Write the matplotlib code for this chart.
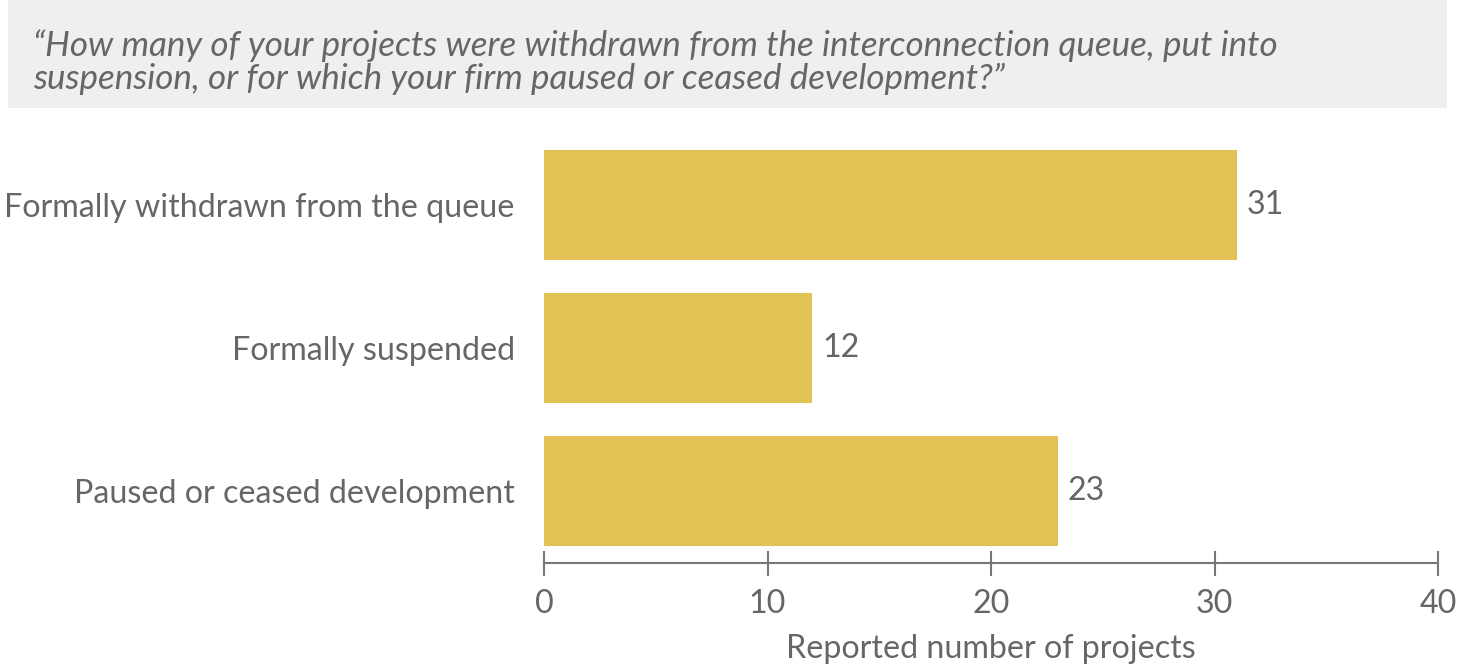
import matplotlib
matplotlib.use("Agg")
import matplotlib.pyplot as plt
from matplotlib.patches import Rectangle

categories = ["Formally withdrawn from the queue", "Formally suspended", "Paused or ceased development"]
values = [31, 12, 23]
xticks = [0, 10, 20, 30, 40]
title_lines = ["\u201cHow many of your projects were withdrawn from the interconnection queue, put into",
               "suspension, or for which your firm paused or ceased development?\u201d"]
xlabel = "Reported number of projects"

plt.rcParams["font.family"] = ["Lato", "DejaVu Sans"]
text_color = "#666666"
bar_color = "#e2c155"
fs = 23.2

W, H = 1466, 665
fig = plt.figure(figsize=(W / 100, H / 100), dpi=100)

# grey banner holding the survey question
fig.patches.append(Rectangle((8 / W, 1 - 108 / H), (1447 - 8) / W, 108 / H,
                             transform=fig.transFigure, facecolor="#eeeff1",
                             edgecolor="none", zorder=0))
fig.text(33 / W, 1 - 46 / H, title_lines[0], fontsize=25.2, style="italic",
         color=text_color, va="center", ha="left")
fig.text(33 / W, 1 - 79 / H, title_lines[1], fontsize=25.2, style="italic",
         color=text_color, va="center", ha="left")

ax = fig.add_axes([544 / W, 1 - 562.5 / H, (1438 - 544) / W, (562.5 - 133.5) / H])
ypos = list(range(len(categories)))
ax.barh(ypos, values, height=0.77, color=bar_color)
for y, v in zip(ypos, values):
    ax.annotate(str(v), (v, y), xytext=(7, 0), textcoords="offset points",
                va="center", ha="left", fontsize=fs, color=text_color)

ax.set_xlim(0, 40)
ax.set_ylim(len(categories) - 0.5, -0.5)
ax.set_yticks(ypos)
ax.set_yticklabels(categories, fontsize=fs, color=text_color)
ax.tick_params(axis="y", length=0, pad=21)
ax.set_xticks(xticks)
ax.set_xticklabels([str(t) for t in xticks], fontsize=fs, color=text_color)
ax.tick_params(axis="x", direction="inout", length=18, width=1.5, color="#777777", pad=10)
for s in ["top", "right", "left"]:
    ax.spines[s].set_visible(False)
ax.spines["bottom"].set_color("#777777")
ax.spines["bottom"].set_linewidth(1.5)
ax.set_xlabel(xlabel, fontsize=fs, color=text_color, labelpad=11)

fig.savefig("out.png", dpi=100)
